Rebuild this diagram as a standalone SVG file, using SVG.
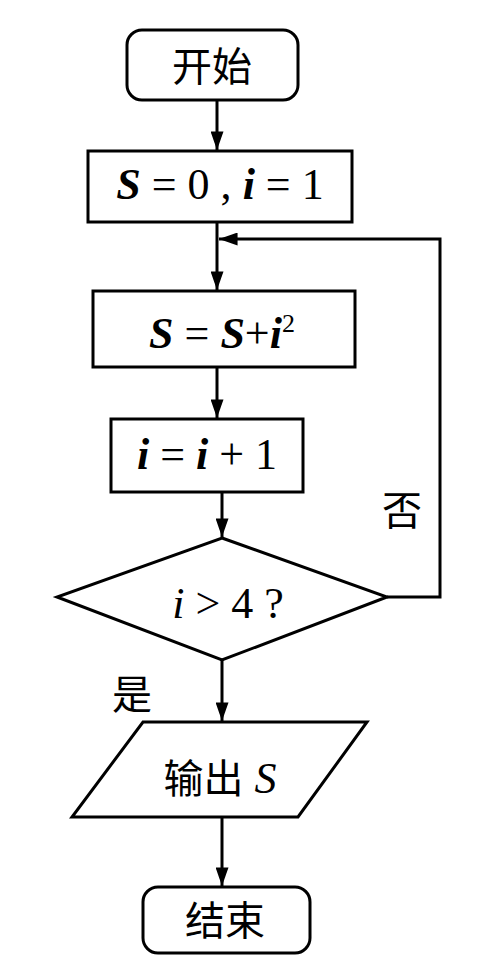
<svg xmlns="http://www.w3.org/2000/svg" width="500" height="978" viewBox="0 0 500 978">
<defs>
<style>
.s{fill:#fff;stroke:#000;stroke-width:3}
.c{fill:none;stroke:#000;stroke-width:3}
.t{font-family:"Liberation Serif","Noto Sans CJK SC",serif;font-size:44px;fill:#000;text-anchor:middle}
.z{font-family:"Noto Sans CJK SC","Noto Sans CJK JP",sans-serif;font-size:40px;fill:#000;text-anchor:middle}
.v{font-style:italic;font-weight:bold}
</style>
<marker id="ah" markerUnits="userSpaceOnUse" markerWidth="20" markerHeight="13" refX="20" refY="7" viewBox="0 0 20 14" orient="auto">
<path d="M0,0 L20,7 L0,14 Z" fill="#000"/>
</marker>
</defs>
<g id="connectors">
<line class="c" x1="217" y1="100" x2="217" y2="150" marker-end="url(#ah)"/>
<line class="c" x1="217" y1="222" x2="217" y2="290" marker-end="url(#ah)"/>
<polyline class="c" points="387,597 440,597 440,239 219,239" marker-end="url(#ah)"/>
<line class="c" x1="217" y1="367" x2="217" y2="418" marker-end="url(#ah)"/>
<line class="c" x1="222" y1="492" x2="222" y2="537" marker-end="url(#ah)"/>
<line class="c" x1="222" y1="660" x2="222" y2="721" marker-end="url(#ah)"/>
<line class="c" x1="222" y1="817" x2="222" y2="886" marker-end="url(#ah)"/>
<text class="z" x="402" y="525">否</text>
<text class="z" x="132" y="709">是</text>
</g>
<g id="start">
<rect class="s" x="127" y="30" width="171" height="70" rx="15"/>
<text class="z" x="212" y="81">开始</text>
</g>
<g id="init">
<rect class="s" x="88" y="151" width="264" height="71"/>
<text class="t" x="220" y="199"><tspan class="v">S</tspan> = 0 , <tspan class="v">i</tspan> = 1</text>
</g>
<g id="sum">
<rect class="s" x="93" y="291" width="262" height="76"/>
<text class="t" x="222" y="348"><tspan class="v">S</tspan> = <tspan class="v">S</tspan>+<tspan class="v">i</tspan><tspan font-size="26" dy="-16">2</tspan></text>
</g>
<g id="inc">
<rect class="s" x="111" y="419" width="192" height="73"/>
<text class="t" x="207" y="469"><tspan class="v">i</tspan> = <tspan class="v">i</tspan> + 1</text>
</g>
<g id="cond">
<polygon class="s" points="222,538 387,597 222,660 57,597"/>
<text class="t" x="228" y="618"><tspan font-style="italic">i</tspan> &gt; 4 ?</text>
</g>
<g id="output">
<polygon class="s" points="143,722 367,722 298,817 72,817"/>
<text class="t" x="220" y="793"><tspan font-family="Noto Sans CJK SC, sans-serif" font-size="40">输出</tspan> <tspan font-style="italic">S</tspan></text>
</g>
<g id="end">
<rect class="s" x="143" y="887" width="167" height="66" rx="15"/>
<text class="z" x="225" y="935">结束</text>
</g>
</svg>
